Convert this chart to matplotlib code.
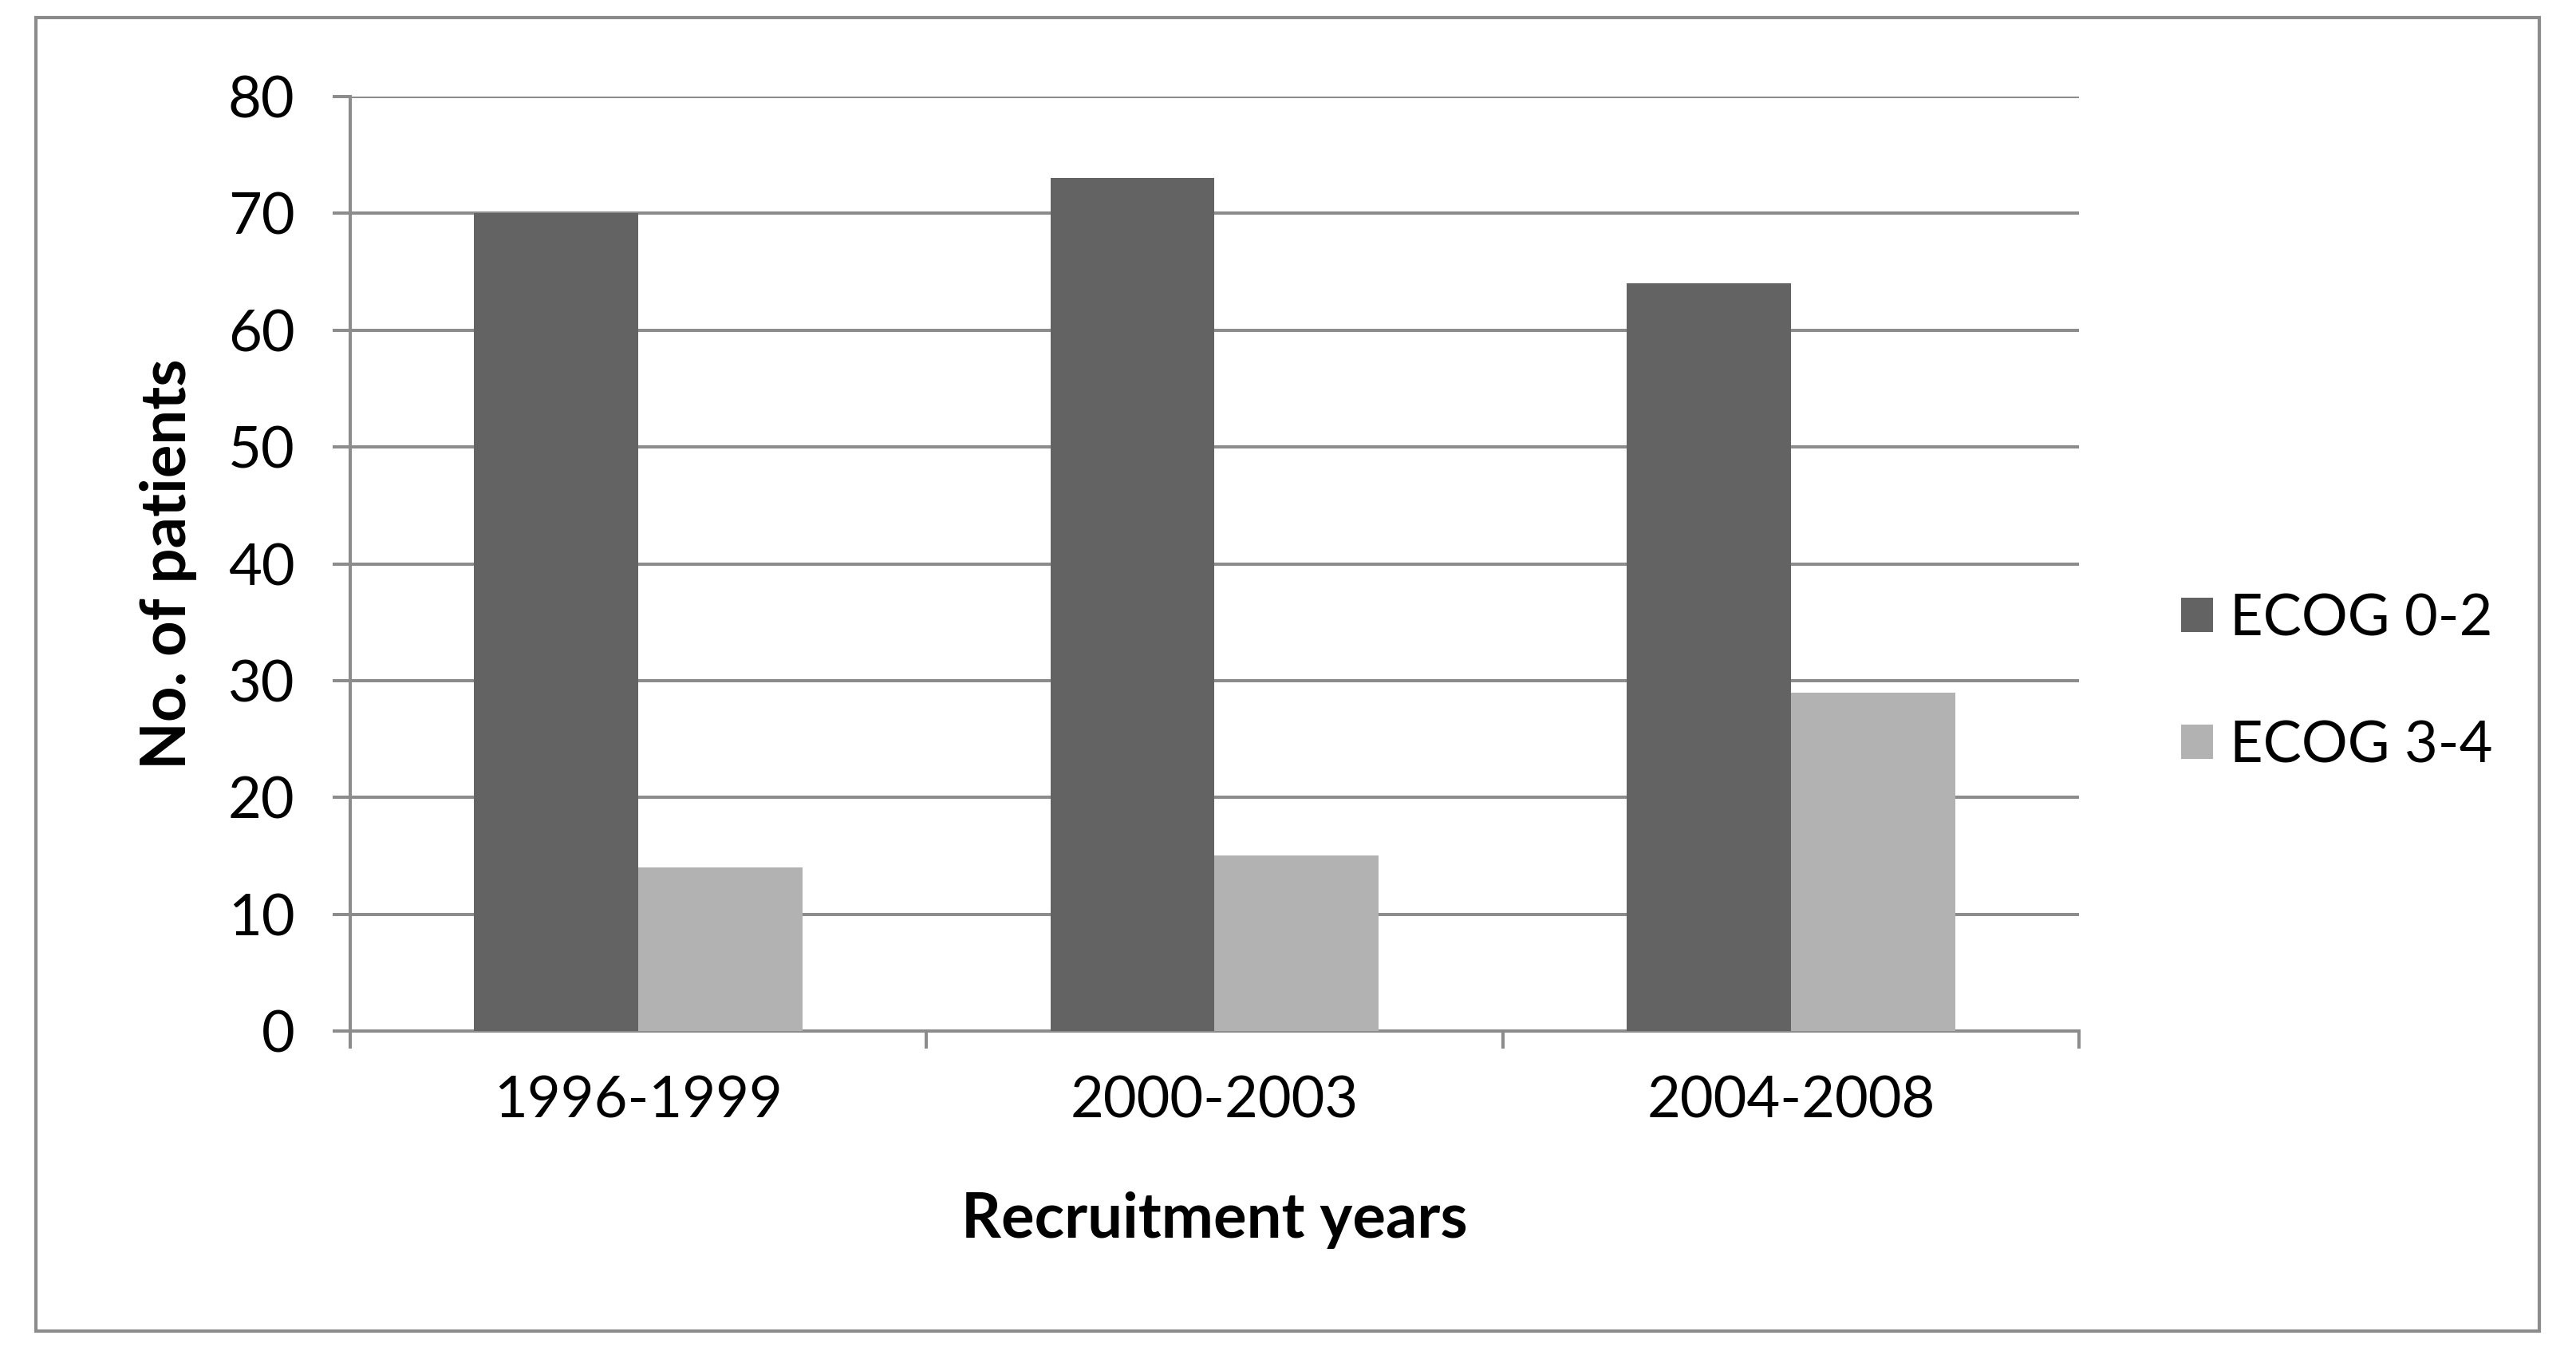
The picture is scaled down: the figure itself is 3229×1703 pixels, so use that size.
import matplotlib
matplotlib.use("Agg")
from matplotlib import pyplot as plt
from matplotlib.patches import Rectangle
import numpy as np

# data
periods = ["1996-1999", "2000-2003", "2004-2008"]
ecog_0_2 = [70, 73, 64]
ecog_3_4 = [14, 15, 29]
series_names = ["ECOG 0-2", "ECOG 3-4"]

plt.rcParams['font.family'] = ['Lato', 'DejaVu Sans']

grid_col = "#8c8c8c"
dark = "#636363"
light = "#b2b2b2"

fig = plt.figure(figsize=(32.3, 17.03), dpi=100)
fig.patch.set_facecolor("white")

# outer frame around the chart
fig.patches.append(Rectangle((45 / 3230, 1 - 1668 / 1703), (3183 - 45) / 3230, (1668 - 22) / 1703,
                             transform=fig.transFigure, fill=False, edgecolor=grid_col, linewidth=3))

ax = fig.add_axes([439 / 3230, 1 - 1292 / 1703, (2606 - 439) / 3230, (1292 - 121) / 1703])

x = np.arange(len(periods))
w = 0.285
ax.bar(x - w / 2, ecog_0_2, w, color=dark, label=series_names[0], zorder=3)
ax.bar(x + w / 2, ecog_3_4, w, color=light, label=series_names[1], zorder=3)

ax.set_xlim(-0.5, len(periods) - 0.5)
ax.set_ylim(0, 80)
ax.set_yticks(range(0, 81, 10))
ax.yaxis.grid(True, color=grid_col, linewidth=2.9, zorder=0)

ax.set_xticks(x)
ax.set_xticklabels(periods)
ax.set_xticks(np.arange(-0.5, len(periods), 1.0), minor=True)
ax.tick_params(axis='x', which='major', length=0, labelsize=52, pad=40)
ax.tick_params(axis='x', which='minor', length=16, width=2.9, color=grid_col, direction='out')
ax.tick_params(axis='y', length=16, width=2.9, color=grid_col, labelsize=52, pad=34)

for s in ["top", "right"]:
    ax.spines[s].set_visible(False)
for s in ["left", "bottom"]:
    ax.spines[s].set_color(grid_col)
    ax.spines[s].set_linewidth(2.9)

ax.set_xlabel("Recruitment years", fontsize=56, fontweight='bold', labelpad=58)
ax.set_ylabel("No. of patients", fontsize=56, fontweight='bold', labelpad=28)

ax.legend(loc='center left', bbox_to_anchor=(1.029, 0.373), frameon=False, fontsize=52,
          handlelength=0.55, handleheight=0.55, handletextpad=0.3, labelspacing=1.3)

fig.savefig("out.png", dpi=100, facecolor="white")
